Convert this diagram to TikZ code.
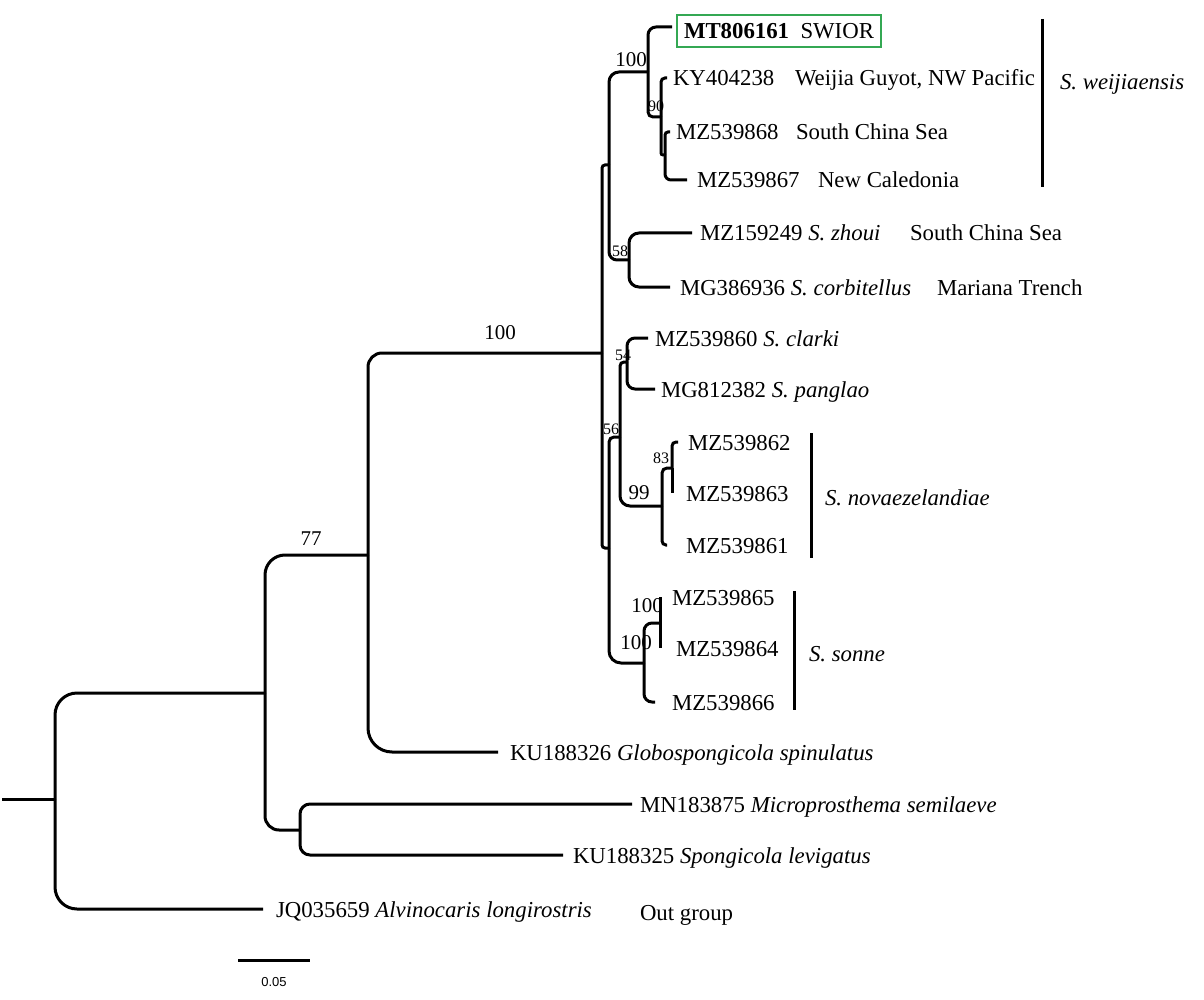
\documentclass[tikz,border=0pt]{standalone}
\usepackage{fontspec}
\setmainfont{Liberation Serif}
\newfontfamily\scalesans{Liberation Sans}
\definecolor{boxgreen}{RGB}{52,168,83}
\newcommand\treefont{\fontsize{22.8}{27}\selectfont}
\newcommand\bigbs{\fontsize{21}{24}\selectfont}
\newcommand\smallbs{\fontsize{16}{18}\selectfont}
\begin{document}
\begin{tikzpicture}[x=1pt,y=-1pt,
  br/.style={line width=3pt, rounded corners=#1}, br/.default=8pt,
  leaf/.style={anchor=west, inner sep=0pt, outer ysep=0pt, outer xsep=#1,
    text height=16pt, text depth=0pt, font=\treefont}, leaf/.default=8pt,
  loc/.style={anchor=west, inner sep=0pt, outer sep=0pt,
    text height=16pt, text depth=0pt, font=\treefont},
  bsl/.style={inner sep=0pt, font=\bigbs},
  bss/.style={inner sep=0pt, font=\smallbs},
  bar/.style={line width=3pt}]
\useasboundingbox (0,0) rectangle (1204,1000);
\fill[white] (0,0) rectangle (1204,1000);

% internal nodes
\coordinate (R0) at (2,799);
\coordinate (R) at (55,799);
\coordinate (N265) at (265,693);
\coordinate (N372) at (368,555);
\coordinate (N300) at (300,830);
\coordinate (Ncr) at (602,353);
\coordinate (NA) at (609,165);
\coordinate (NB) at (609,548);
\coordinate (N100) at (648,72);
\coordinate (N90) at (661,117);
\coordinate (Nsm) at (665,155);
\coordinate (N58) at (629,260);
\coordinate (NC) at (620,437);
\coordinate (N54) at (627,362);
\coordinate (N99) at (662,506);
\coordinate (N83) at (672,468);
\coordinate (NS) at (644,663);
\coordinate (NU) at (660,623);

% leaves
\node[leaf=5pt, draw=boxgreen, line width=2.8pt, inner xsep=7pt, inner ysep=8pt] (MT) at (672,31) {\textbf{MT806161}\hspace{0.5em}SWIOR};
\node[leaf=6pt] (KY) at (667,78) {KY404238};
\node[leaf=6pt] (M868) at (670,132) {MZ539868};
\node[leaf=10pt] (M867) at (687,180) {MZ539867};
\node[leaf=8pt] (M249) at (692,233) {MZ159249 \textit{S. zhoui}};
\node[leaf=10pt] (M936) at (670,287) {MG386936 \textit{S. corbitellus}};
\node[leaf=7pt] (M860) at (648,338) {MZ539860 \textit{S. clarki}};
\node[leaf=6pt] (M382) at (655,389) {MG812382 \textit{S. panglao}};
\node[leaf=10pt] (M862) at (678,442) {MZ539862};
\node[leaf=14pt] (M863) at (672,493) {MZ539863};
\node[leaf=19pt] (M861) at (667,545) {MZ539861};
\node[leaf=12pt] (M865) at (660,597) {MZ539865};
\node[leaf=16pt] (M864) at (660,648) {MZ539864};
\node[leaf=17pt] (M866) at (655,702) {MZ539866};
\node[leaf=12pt] (K326) at (498,752) {KU188326 \textit{Globospongicola spinulatus}};
\node[leaf=8pt] (M875) at (632,804) {MN183875 \textit{Microprosthema semilaeve}};
\node[leaf=10pt] (K325) at (563,855) {KU188325 \textit{Spongicola levigatus}};
\node[leaf=13pt] (JQ) at (263,909) {JQ035659 \textit{Alvinocaris longirostris}};

% locations and species
\node[loc] (L1) at (795,78) {Weijia Guyot, NW Pacific};
\node[loc] (L2) at (796,132) {South China Sea};
\node[loc] (L3) at (818,180) {New Caledonia};
\node[loc] (L4) at (910,233) {South China Sea};
\node[loc] (L5) at (937,287) {Mariana Trench};
\node[loc] (L6) at (640,912) {Out group};
\node[loc] (S1) at (1060,82) {\textit{S. weijiaensis}};
\node[loc] (S2) at (825,497) {\textit{S. novaezelandiae}};
\node[loc] (S3) at (809,653) {\textit{S. sonne}};

% branches
\draw[br] (R0) -- (R);
\draw[br=22pt] (R) |- (N265);
\draw[br=22pt] (R) |- (JQ);
\draw[br=20pt] (N265) |- (N372);
\draw[br=14pt] (N265) |- (N300);
\draw[br=14pt] (N372) |- (Ncr);
\draw[br=24pt] (N372) |- (K326);
\draw[br=10pt] (N300) |- (M875);
\draw[br=10pt] (N300) |- (K325);
\draw[br=3pt] (Ncr) |- (NA);
\draw[br=3pt] (Ncr) |- (NB);
\draw[br=10pt] (NA) |- (N100);
\draw[br=8pt] (NA) |- (N58);
\draw[br=8pt] (N100) |- ([yshift=4pt]MT.west);
\draw[br=5pt] (N100) |- (N90);
\draw[br=4pt] (N90) |- (KY);
\draw[br=2pt] (N90) |- (Nsm);
\draw[br=3pt] (Nsm) |- (M868);
\draw[br=6pt] (Nsm) |- (M867);
\draw[br=10pt] (N58) |- (M249);
\draw[br=10pt] (N58) |- (M936);
\draw[br=5pt] (NB) |- (NC);
\draw[br=12pt] (NB) |- (NS);
\draw[br=4pt] (NC) |- (N54);
\draw[br=10pt] (NC) |- (N99);
\draw[br=8pt] (N54) |- (M860);
\draw[br=8pt] (N54) |- (M382);
\draw[br=5pt] (N99) |- (N83);
\draw[br=4pt] (N99) |- (M861);
\draw[br=4pt] (N83) |- (M862);
\draw[br, sharp corners] (N83) |- (M863);
\draw[br=8pt] (NS) |- (NU);
\draw[br=8pt] (NS) |- (M866);
\draw[br, sharp corners] (NU) |- (M865);
\draw[br, sharp corners] (NU) |- (M864);

% clade bars
\coordinate (B1a) at (1042,19); \coordinate (B1b) at (1042,187);
\coordinate (B2a) at (811,433); \coordinate (B2b) at (811,558);
\coordinate (B3a) at (794,591); \coordinate (B3b) at (794,710);
\draw[bar] (B1a) -- (B1b);
\draw[bar] (B2a) -- (B2b);
\draw[bar] (B3a) -- (B3b);

% bootstrap values
\node[bsl] (b1) at (500,333) {100};
\node[bsl] (b2) at (311,539) {77};
\node[bsl] (b3) at (631,60) {100};
\node[bsl] (b4) at (639,493) {99};
\node[bsl] (b5) at (647,606) {100};
\node[bsl] (b6) at (636,643) {100};
\node[bss] (b7) at (656,106) {90};
\node[bss] (b8) at (620,251) {58};
\node[bss] (b9) at (623,355) {54};
\node[bss] (b10) at (611,429) {56};
\node[bss] (b11) at (661,458) {83};

% scale bar
\coordinate (sc1) at (238,960);
\coordinate (sc2) at (310,960);
\draw[line width=3pt] (sc1) -- (sc2);
\node[inner sep=0pt, font=\scalesans\fontsize{13}{15}\selectfont] (scl) at (274,982) {0.05};
\end{tikzpicture}
\end{document}
